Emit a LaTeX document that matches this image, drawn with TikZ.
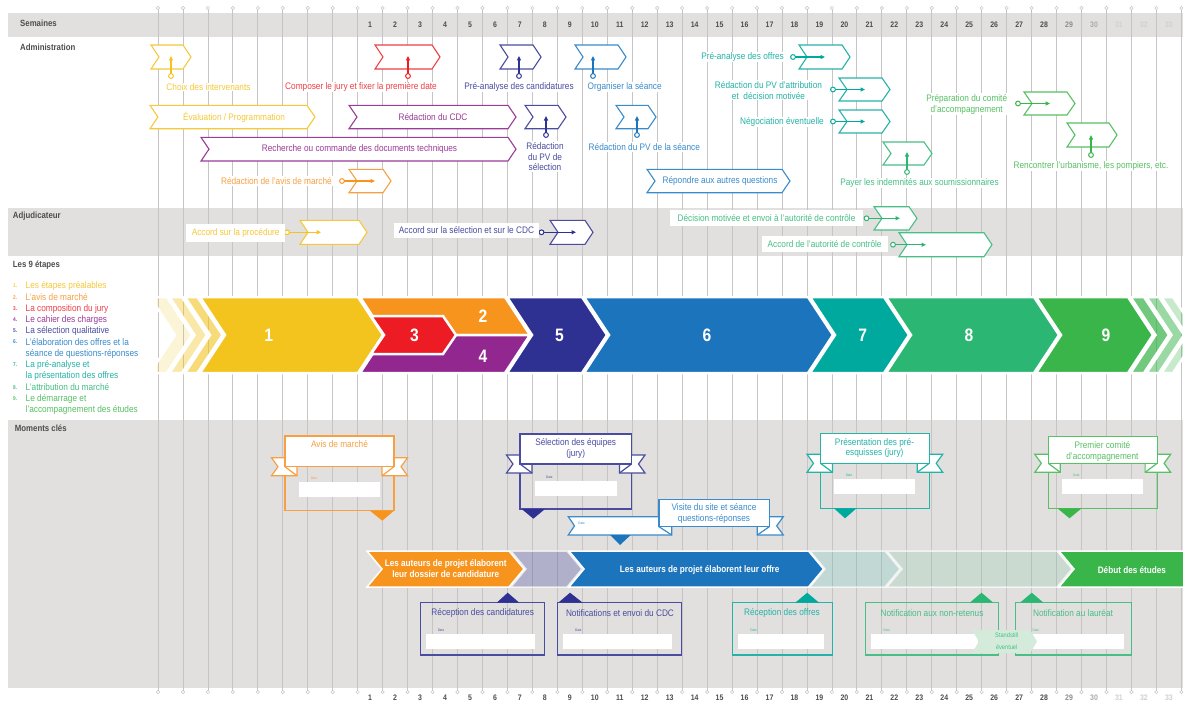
\documentclass[tikz,border=0pt]{standalone}
\usepackage{fontspec}
\setmainfont{Liberation Sans}[FakeStretch=0.87]
\usetikzlibrary{arrows.meta}
\definecolor{cYel}{HTML}{F3C41E}
\definecolor{cYelL}{HTML}{F5C93A}
\definecolor{cOra}{HTML}{F7941D}
\definecolor{cOraL}{HTML}{F7A043}
\definecolor{cRed}{HTML}{ED1C24}
\definecolor{cRedL}{HTML}{EE3F47}
\definecolor{cPur}{HTML}{92278F}
\definecolor{cPurL}{HTML}{9B3B98}
\definecolor{cDbl}{HTML}{2E3192}
\definecolor{cDblL}{HTML}{4A4D9F}
\definecolor{cBlu}{HTML}{1C75BC}
\definecolor{cBluL}{HTML}{3A8BCB}
\definecolor{cTea}{HTML}{00A99D}
\definecolor{cTeaL}{HTML}{25B3A7}
\definecolor{cGrE}{HTML}{2BB673}
\definecolor{cGrEL}{HTML}{48BF86}
\definecolor{cGrN}{HTML}{39B54A}
\definecolor{cGrNL}{HTML}{58C065}
\definecolor{cBand}{HTML}{E1E0DF}
\definecolor{cGrid}{HTML}{C6C4C4}
\definecolor{cLab}{HTML}{4D4D4D}
\definecolor{cStand}{HTML}{D4EBDC}
\tikzset{
  txt/.style={font=\fontsize{9.5}{10.8}\selectfont, inner sep=1pt, align=center},
  wlab/.style={txt, fill=white},
  bandlab/.style={font=\fontsize{9}{10}\selectfont\bfseries, text=cLab, inner sep=0pt, anchor=west},
  wknum/.style={font=\fontsize{8}{9}\selectfont\bfseries, inner sep=0pt},
  bignum/.style={font=\fontsize{18}{18}\selectfont\bfseries, text=white, inner sep=0pt},
  proctxt/.style={font=\fontsize{9.4}{10.8}\selectfont\bfseries, text=white, inner sep=0pt, align=center},
  datetxt/.style={font=\fontsize{3.5}{4}\selectfont, inner sep=0pt},
  stemarrow/.style={line width=1.3pt, -{Triangle[length=4.5pt,width=4pt]}},
  ringdot/.style={fill=white, draw=#1, line width=1pt},
  legnum/.style={font=\fontsize{5.5}{6}\selectfont\bfseries, inner sep=0pt, anchor=west},
  legtxt/.style={font=\fontsize{9.5}{11}\selectfont, inner sep=0pt, anchor=west},
}
\newcommand\mychev[3]{\filldraw[fill=#1,draw=white,line width=2.5pt] (#2,297) -- (#3,297) -- ({#3+25},335) -- (#3,373) -- (#2,373) -- ({#2+25},335) -- cycle;}
\newcommand\mychevO[4]{\filldraw[fill=#1,fill opacity=#4,draw=white,line width=2.5pt] (#2,297) -- (#3,297) -- ({#3+25},335) -- (#3,373) -- (#2,373) -- ({#2+25},335) -- cycle;}
\newcommand\myflag[5]{\filldraw[fill=white,draw=#1,line width=1.1pt] (#2,#4) -- (#3,#4) -- ({#3+8},{(#4+#5)/2}) -- (#3,#5) -- (#2,#5) -- ({#2+8},{(#4+#5)/2}) -- cycle;}
\newcommand\myproc[3]{\filldraw[#1] (#2,551) -- (#3,551) -- ({#3+15},569) -- (#3,587) -- (#2,587) -- ({#2+15},569) -- cycle;}
\newcommand\upstem[5]{\coordinate (#5s) at (#2,#3); \coordinate (#5t) at (#2,#4); \draw[stemarrow,#1] (#5s) -- (#5t); \draw[ringdot=#1] (#5s) circle (2.4);}
\newcommand\hstem[5]{\coordinate (#5s) at (#2,#4); \coordinate (#5t) at (#3,#4); \draw[stemarrow,#1] (#5s) -- (#5t); \draw[ringdot=#1] (#5s) circle (2.4);}
\newcommand\myribbon[6]{%
 \draw[#1,line width=1.2pt] (#2,#5) -- (#2,#6) -- (#3,#6) -- (#3,#5);
 \filldraw[fill=white,draw=#1,line width=1.2pt] ({#2-13.5},{#5-9}) -- ({#2+12},{#5-9}) -- ({#2+12},{#5+9}) -- ({#2-13.5},{#5+9}) -- ({#2-7},#5) -- cycle;
 \filldraw[fill=white,draw=#1,line width=1.2pt] ({#3+13.5},{#5-9}) -- ({#3-12},{#5-9}) -- ({#3-12},{#5+9}) -- ({#3+13.5},{#5+9}) -- ({#3+7},#5) -- cycle;
 \filldraw[fill=white,draw=#1,line width=1.2pt] (#2,#4) rectangle (#3,#5);
 \draw[#1,line width=1.2pt] (#2,#5) -- ({#2+12},{#5+9});
 \draw[#1,line width=1.2pt] (#3,#5) -- ({#3-12},{#5+9});}
\begin{document}
\begin{tikzpicture}[x=1pt,y=-1pt]
\useasboundingbox (0,0) rectangle (1183,701);
\fill[white] (0,0) rectangle (1183,701);
% bands
\fill[cBand] (8,13) rectangle (1183,37);
\fill[cBand] (8,208.3) rectangle (1183,255.7);
\fill[cBand] (8,420) rectangle (1183,687.7);
% grid
\foreach \k in {0,...,41}{
  \draw[cGrid, line width=0.8pt] ({158+24.96*\k},8) -- ({158+24.96*\k},692);
  \draw[cGrid, fill=white, line width=0.5pt] ({158+24.96*\k},8) circle (1.7);
  \draw[cGrid, fill=white, line width=0.5pt] ({158+24.96*\k},692) circle (1.7);
}
\foreach \n in {1,...,28}{
  \node[wknum, text=cLab] (wt\n) at ({158+24.96*(\n+7.5)},25) {\n};
  \node[wknum, text=cLab] (wb\n) at ({158+24.96*(\n+7.5)},697.5) {\n};
}
\foreach \n/\g in {29/45,30/33,31/18,32/18,33/18}{
  \node[wknum, text=black!\g] (wt\n) at ({158+24.96*(\n+7.5)},25) {\n};
  \node[wknum, text=black!\g] (wb\n) at ({158+24.96*(\n+7.5)},697.5) {\n};
}
% band labels
\node[bandlab] (l-sem) at (20,23) {Semaines};
\node[bandlab] (l-adm) at (20,47.3) {Administration};
\node[bandlab] (l-adj) at (12.7,216.5) {Adjudicateur};
\node[bandlab] (l-neuf) at (12.7,265) {Les 9 étapes};
\node[bandlab] (l-mom) at (14.7,428.3) {Moments clés};
% legend
\node[legnum,text=cYelL] (g1) at (13,286) {1.};
\node[legtxt,text=cYelL] (h1) at (25.5,286) {Les étapes préalables};
\node[legnum,text=cOraL] (g2) at (13,297.3) {2.};
\node[legtxt,text=cOraL] (h2) at (25.5,297.3) {L'avis de marché};
\node[legnum,text=cRedL] (g3) at (13,308.7) {3.};
\node[legtxt,text=cRedL] (h3) at (25.5,308.7) {La composition du jury};
\node[legnum,text=cPurL] (g4) at (13,319.7) {4.};
\node[legtxt,text=cPurL] (h4) at (25.5,319.7) {Le cahier des charges};
\node[legnum,text=cDblL] (g5) at (13,331) {5.};
\node[legtxt,text=cDblL] (h5) at (25.5,331) {La sélection qualitative};
\node[legnum,text=cBluL] (g6) at (13,342) {6.};
\node[legtxt,text=cBluL] (h6) at (25.5,342) {L'élaboration des offres et la};
\node[legtxt,text=cBluL] (h6b) at (25.5,353.5) {séance de questions-réponses};
\node[legnum,text=cTeaL] (g7) at (13,364.7) {7.};
\node[legtxt,text=cTeaL] (h7) at (25.5,364.7) {La pré-analyse et};
\node[legtxt,text=cTeaL] (h7b) at (25.5,376) {la présentation des offres};
\node[legnum,text=cGrEL] (g8) at (13,387.3) {8.};
\node[legtxt,text=cGrEL] (h8) at (25.5,387.3) {L'attribution du marché};
\node[legnum,text=cGrNL] (g9) at (13,398.5) {9.};
\node[legtxt,text=cGrNL] (h9) at (25.5,398.5) {Le démarrage et};
\node[legtxt,text=cGrNL] (h9b) at (25.5,409.7) {l'accompagnement des études};
% 9 steps chevrons
\begin{scope}
\clip (157,290) rectangle (1183,380);
\mychevO{cYel}{150}{167}{0.18}
\mychevO{cYel}{169.5}{182}{0.38}
\mychevO{cYel}{185}{197.5}{0.6}
\mychev{cYel}{200}{358}
\filldraw[fill=cOra,draw=white,line width=2.5pt] (360,297) -- (505,297) -- (530,335) -- (385,335) -- cycle;
\filldraw[fill=cPur,draw=white,line width=2.5pt] (385,335) -- (530,335) -- (505,373) -- (360,373) -- cycle;
\filldraw[fill=cRed,draw=white,line width=2.5pt] (371,316) -- (443,316) -- (456,335) -- (443,354) -- (371,354) -- (384,335) -- cycle;
\mychev{cDbl}{507}{582}
\mychev{cBlu}{584}{808}
\mychev{cTea}{810}{884}
\mychev{cGrE}{886}{1034}
\mychev{cGrN}{1036}{1128}
\mychevO{cGrN}{1130.5}{1144}{0.72}
\mychevO{cGrN}{1146.5}{1159}{0.5}
\mychevO{cGrN}{1161.5}{1173}{0.28}
\end{scope}
\node[bignum] (n1) at (268.7,335) {1};
\node[bignum] (n3) at (414.5,335) {3};
\node[bignum] (n2) at (483,316.7) {2};
\node[bignum] (n4) at (483,356.7) {4};
\node[bignum] (n5) at (559.5,335) {5};
\node[bignum] (n6) at (707,335) {6};
\node[bignum] (n7) at (862.7,335) {7};
\node[bignum] (n8) at (969,335) {8};
\node[bignum] (n9) at (1106,335) {9};
% administration bars
\myflag{cYelL}{150}{307}{105.3}{128.7}
\myflag{cPurL}{349}{508}{105.3}{128.7}
\myflag{cPurL}{201}{508}{137.3}{161}
\myflag{cBluL}{647}{782}{169.3}{192.7}
\node[txt,text=cYelL] (t-b1) at (234,117) {Évaluation / Programmation};
\node[txt,text=cPurL] (t-b2) at (433,117) {Rédaction du CDC};
\node[txt,text=cPurL] (t-b3) at (359.5,149) {Recherche ou commande des documents techniques};
\node[txt,text=cBluL] (t-b4) at (720,181) {Répondre aux autres questions};
% administration flags
\myflag{cYelL}{151}{183}{45}{69}
\myflag{cRedL}{375}{432}{45}{69}
\myflag{cDblL}{500}{533}{45}{69}
\myflag{cBluL}{575}{618}{45}{69}
\myflag{cTeaL}{799}{842}{45}{69}
\myflag{cTeaL}{839}{882}{78}{101}
\myflag{cTeaL}{839}{882}{110}{133}
\myflag{cGrEL}{883}{924}{142}{165}
\myflag{cGrNL}{1024}{1067}{92}{115}
\myflag{cGrNL}{1067}{1109}{123}{147}
\myflag{cDblL}{525}{558}{105.3}{128.7}
\myflag{cBluL}{616}{648}{105.3}{128.7}
\myflag{cOraL}{349}{383}{169.3}{192.7}
\upstem{cYel}{171}{76}{56}{a1}
\upstem{cRed}{408}{76}{56}{a2}
\upstem{cDbl}{519}{76}{56}{a3}
\upstem{cBlu}{593}{76}{56}{a4}
\hstem{cTea}{793}{825}{57}{a5}
\hstem{cTea}{833}{865}{89.5}{a6}
\hstem{cTea}{833}{865}{121.5}{a7}
\upstem{cGrE}{907}{172}{152}{a8}
\hstem{cGrN}{1018}{1050}{103.5}{a9}
\upstem{cGrN}{1091}{155}{135}{a10}
\upstem{cDbl}{546}{135}{116}{a11}
\upstem{cBlu}{637}{135}{116}{a12}
\hstem{cOra}{342}{375}{181}{a13}
\node[wlab,text=cYelL] (t-a1) at (208.5,87) {Choix des intervenants};
\node[wlab,text=cRedL] (t-a2) at (361,87) {Composer le jury et fixer la première date};
\node[wlab,text=cDblL] (t-a3) at (519,87) {Pré-analyse des candidatures};
\node[wlab,text=cBluL] (t-a4) at (624.7,87) {Organiser la séance};
\node[wlab,text=cTeaL,anchor=east] (t-a5) at (785,57) {Pré-analyse des offres};
\node[wlab,text=cTeaL] (t-a6) at (768.5,90.3) {Rédaction du PV d'attribution\\et~ décision motivée};
\node[wlab,text=cTeaL,anchor=east] (t-a7) at (825,122) {Négociation éventuelle};
\node[wlab,text=cGrEL] (t-a8) at (919.5,183) {Payer les indemnités aux soumissionnaires};
\node[wlab,text=cGrNL] (t-a9) at (966.7,104.3) {Préparation du comité\\d'accompagnement};
\node[wlab,text=cGrNL] (t-a10) at (1091,166) {Rencontrer l'urbanisme, les pompiers, etc.};
\node[wlab,text=cDblL] (t-a11) at (545,156.6) {Rédaction\\du PV de\\sélection};
\node[wlab,text=cBluL] (t-a12) at (644.3,147) {Rédaction du PV de la séance};
\node[wlab,text=cOraL,anchor=east] (t-a13) at (333,181) {Rédaction de l'avis de marché};
% adjudicateur
\myflag{cYelL}{300}{359}{220.3}{244.3}
\myflag{cDblL}{550}{585}{220.3}{244.3}
\myflag{cGrEL}{874}{909}{206.7}{230}
\myflag{cGrEL}{899}{984}{232.7}{256.7}
\hstem{cYel}{287}{321}{232.3}{j1}
\hstem{cDbl}{541.5}{576}{232.3}{j2}
\hstem{cGrE}{866.5}{900}{218.3}{j3}
\hstem{cGrE}{893}{926}{244.7}{j4}
\node[wlab,text=cYelL,minimum width=98.7pt,minimum height=17.4pt] (t-j1) at (235.7,233) {Accord sur la procédure};
\node[wlab,text=cDblL,minimum width=144.6pt,minimum height=15.6pt] (t-j2) at (466.5,230.5) {Accord sur la sélection et sur le CDC};
\node[wlab,text=cGrEL,minimum width=192.3pt,minimum height=16pt] (t-j3) at (766.5,218) {Décision motivée et envoi à l'autorité de contrôle};
\node[wlab,text=cGrEL,minimum width=126.2pt,minimum height=15.7pt] (t-j4) at (824.6,243.8) {Accord de l'autorité de contrôle};
% process band
\myproc{fill=cOra,draw=white,line width=1.5pt}{367}{509}
\myproc{fill=cDbl,fill opacity=0.27,draw=white,draw opacity=0.7,line width=1.5pt}{511}{567}
\myproc{fill=cBlu,draw=white,line width=1.5pt}{569}{808.5}
\myproc{fill=cTea,fill opacity=0.14,draw=white,draw opacity=0.7,line width=1.5pt}{810}{885}
\myproc{fill=cGrE,fill opacity=0.12,draw=white,draw opacity=0.7,line width=1.5pt}{887}{1057}
\filldraw[fill=cGrN,draw=white,line width=1.5pt] (1059,551) -- (1186,551) -- (1186,587) -- (1059,587) -- (1074,569) -- cycle;
\node[proctxt] (p1) at (445.7,568.4) {Les auteurs de projet élaborent\\leur dossier de candidature};
\node[proctxt] (p3) at (699.7,570) {Les auteurs de projet élaborent leur offre};
\node[proctxt] (p6) at (1131.9,570) {Début des études};
% moments: ribbons
\myribbon{cOraL}{285}{394}{436}{466.7}{510.7}
\node[txt,text=cOraL] (m1) at (339.5,444.3) {Avis de marché};
\node[datetxt,text=cOraL] (m1d) at (314,478.3) {Date};
\fill[white] (299,481.7) rectangle (380,496.7);
\fill[cOra] (370,510.7) -- (394,510.7) -- (382.3,520.7) -- cycle;
\myribbon{cDblL}{520}{631.5}{434}{464}{509}
\node[txt,text=cDblL] (m2) at (575.7,448.2) {Sélection des équipes\\(jury)};
\node[datetxt,text=cDblL] (m2d) at (549.3,477.3) {Date};
\fill[white] (535,481) rectangle (617,496);
\fill[cDbl] (521.7,509) -- (545,509) -- (533.3,518.7) -- cycle;
\myribbon{cTeaL}{820.5}{929.2}{433.3}{463.3}{508.3}
\node[txt,text=cTeaL] (m4) at (874.5,448) {Présentation des pré-\\esquisses (jury)};
\node[datetxt,text=cTeaL] (m4d) at (849,475) {Date};
\fill[white] (834,479.3) rectangle (914.7,494);
\fill[cTea] (834,508.3) -- (856.5,508.3) -- (845,518.3) -- cycle;
\myribbon{cGrNL}{1048.3}{1157.1}{436.7}{463.3}{508.3}
\node[txt,text=cGrNL] (m5) at (1102.4,451.2) {Premier comité\\d'accompagnement};
\node[datetxt,text=cGrNL] (m5d) at (1076.4,475) {Date};
\fill[white] (1062,479.3) rectangle (1143,494);
\fill[cGrN] (1057.4,508.3) -- (1081.6,508.3) -- (1069.5,518.3) -- cycle;
% visite du site
\filldraw[fill=white,draw=cBluL,line width=1.2pt] (568.3,516.7) -- (671.7,516.7) -- (671.7,535) -- (568.3,535) -- (574.5,525.85) -- cycle;
\filldraw[fill=white,draw=cBluL,line width=1.2pt] (783.3,516.7) -- (757.3,516.7) -- (757.3,535) -- (783.3,535) -- (776.7,525.85) -- cycle;
\filldraw[fill=white,draw=cBluL,line width=1.2pt] (659,499.3) rectangle (769.3,526.7);
\draw[cBluL,line width=1.2pt] (659,526.7) -- (671.7,535);
\draw[cBluL,line width=1.2pt] (769.3,526.7) -- (757.3,535);
\fill[cBlu] (610,535) -- (630.7,535) -- (620,545) -- cycle;
\node[txt,text=cBluL] (m3) at (714,513.8) {Visite du site et séance\\questions-réponses};
\node[datetxt,text=cBluL] (m3d) at (581.7,523.3) {Date};
% bottom boxes
\draw[cDblL,line width=1.2pt] (420.7,602.7) rectangle (544.3,655);
\fill[cDbl] (496.7,602.7) -- (519.3,602.7) -- (507.7,592.7) -- cycle;
\node[txt,text=cDblL] (q1) at (482.7,613.3) {Réception des candidatures};
\node[datetxt,text=cDblL] (q1d) at (441,630) {Date};
\fill[white] (426,634) rectangle (535,649);
\draw[cDblL,line width=1.2pt] (557.7,602.7) rectangle (681.7,655);
\fill[cDbl] (558.3,602.7) -- (582.7,602.7) -- (570,592.7) -- cycle;
\node[txt,text=cDblL] (q2) at (620,613.3) {Notifications et envoi du CDC};
\node[datetxt,text=cDblL] (q2d) at (578.3,630) {Date};
\fill[white] (562.7,634) rectangle (672,649);
\draw[cTeaL,line width=1.2pt] (732.8,602.7) rectangle (832.2,655);
\fill[cTea] (795.2,602.7) -- (819.1,602.7) -- (807.2,592.7) -- cycle;
\node[txt,text=cTeaL] (q3) at (782,613.3) {Réception des offres};
\node[datetxt,text=cTeaL] (q3d) at (753.6,630) {Date};
\fill[white] (738,634) rectangle (823.6,649);
\draw[cGrEL,line width=1.2pt] (865.8,602.7) rectangle (998.5,655);
\fill[cGrE] (969.7,602.7) -- (993.3,602.7) -- (981.5,592.7) -- cycle;
\node[txt,text=cGrEL] (q4) at (932,613.3) {Notification aux non-retenus};
\node[datetxt,text=cGrEL] (q4d) at (886.6,630) {Date};
\fill[white] (871,634) rectangle (978,649);
\draw[cGrEL,line width=1.2pt] (1015.8,602.7) rectangle (1131.2,655);
\fill[cGrE] (1020,602.7) -- (1043.5,602.7) -- (1031.8,592.7) -- cycle;
\node[txt,text=cGrEL] (q5) at (1073,613.3) {Notification au lauréat};
\node[datetxt,text=cGrEL] (q5d) at (1035.9,630) {Date};
\fill[white] (1033,634) rectangle (1124,649);
\fill[cStand] (972,630) -- (1030,630) -- (1037,641.5) -- (1030,653) -- (972,653) -- (979,641.5) -- cycle;
\node[font=\fontsize{6.5}{7}\selectfont,text=cGrEL,inner sep=0pt] (ss1) at (1006.7,635.5) {Standstill};
\node[font=\fontsize{6.5}{7}\selectfont,text=cGrEL,inner sep=0pt] (ss2) at (1006.7,647) {éventuel};
\end{tikzpicture}
\end{document}
